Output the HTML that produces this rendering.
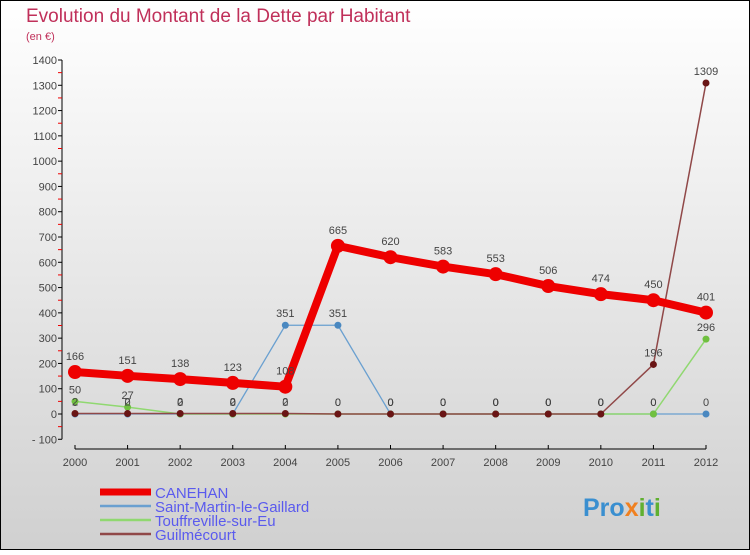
<!DOCTYPE html>
<html><head><meta charset="utf-8"><style>
body{margin:0}
#c{width:750px;height:550px;position:relative;font-family:"Liberation Sans",sans-serif}
</style></head><body>
<div id="c">
<svg id="s" width="750" height="550" xmlns="http://www.w3.org/2000/svg">
<defs><linearGradient id="bg" x1="0" y1="0" x2="0" y2="1"><stop offset="0" stop-color="#ffffff"/><stop offset="1" stop-color="#d0d0d0"/></linearGradient></defs>
<rect x="0.5" y="0.5" width="749" height="549" fill="url(#bg)" stroke="#000"/>
<text x="26" y="22" font-size="19" fill="#c0305a">Evolution du Montant de la Dette par Habitant</text>
<text x="26" y="40" font-size="11" fill="#c0305a">(en €)</text>
<g id="g"></g>
<text x="583" y="516" font-size="25" font-weight="bold" fill="#3a8fd0">Pro<tspan fill="#f08020">x</tspan><tspan fill="#60b030">i</tspan>t<tspan fill="#60b030">i</tspan></text>
</svg></div>
<script>
const years=[2000,2001,2002,2003,2004,2005,2006,2007,2008,2009,2010,2011,2012];
const yTicks=[-100,0,100,200,300,400,500,600,700,800,900,1000,1100,1200,1300,1400];
const canehan=[166,151,138,123,108,665,620,583,553,506,474,450,401];
const saintMartin=[0,0,0,0,351,351,0,0,0,0,0,0,0];
const touffreville=[50,27,0,0,0,0,0,0,0,0,0,0,296];
const guilmecourt=[2,2,2,2,2,0,0,0,0,0,0,196,1309];
const names=["CANEHAN","Saint-Martin-le-Gaillard","Touffreville-sur-Eu","Guilmécourt"];
const NS="http://www.w3.org/2000/svg",g=document.getElementById('g');
const X=i=>75+i*(706-75)/12, Y=v=>414-v*(414-60)/1400;
function el(t,a,p){const e=document.createElementNS(NS,t);for(const k in a)e.setAttribute(k,a[k]);(p||g).appendChild(e);return e;}
let ax=el('line',{x1:62,y1:Y(1400),x2:62,y2:Y(-100),stroke:'#000'});

yTicks.forEach(v=>{el('line',{x1:58,y1:Y(v),x2:62,y2:Y(v),stroke:'#000'});
 if(v<1400)el('line',{x1:58,y1:Y(v+50),x2:62,y2:Y(v+50),stroke:'#e00'});
 let t=el('text',{x:57,y:Y(v)+4,'font-size':11,'text-anchor':'end',fill:'#444'});t.textContent=v<0?'- '+(-v):v;
 });
let xa=el('line',{x1:X(0),y1:449,x2:X(12),y2:449,stroke:'#000'});

years.forEach((y,i)=>{el('line',{x1:X(i),y1:445,x2:X(i),y2:449,stroke:'#000'});
 let t=el('text',{x:X(i),y:466,'font-size':11,'text-anchor':'middle',fill:'#444'});t.textContent=y;
 });
const series=[[canehan,'#ee0000',8,7,'#ee0000'],[saintMartin,'#6aa0d0',1.3,3.5,'#4a88c0'],[touffreville,'#90d870',1.5,3.5,'#70c040'],[guilmecourt,'#904848',1.5,3.5,'#6a1515']];
[1,2,3,0].forEach(si=>{const [d,c,w,r,mc]=series[si];
 let p=el('polyline',{points:d.map((v,i)=>X(i)+','+Y(v)).join(' '),fill:'none',stroke:c,'stroke-width':w,'stroke-linejoin':'round'});
 
 d.forEach((v,i)=>{let m=el('circle',{cx:X(i),cy:Y(v),r:r,fill:mc});
  
  let t=el('text',{x:X(i),y:Y(v)-(si==0?12:8),'font-size':11,'text-anchor':'middle',fill:'#444'});t.textContent=v;
  });});
series.forEach((s,i)=>{const y=492+i*14;
 let l=el('line',{x1:100,y1:y,x2:151,y2:y,stroke:s[1],'stroke-width':i==0?7:2.5});
 
 let t=el('text',{x:155,y:y+6,'font-size':15,fill:'#5a5aee'});t.textContent=names[i];
 });
</script></body></html>
